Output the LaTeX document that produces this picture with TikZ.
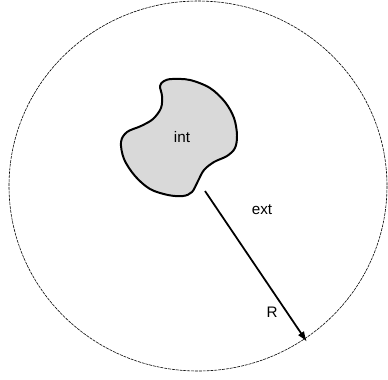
\documentclass[tikz,border=0pt]{standalone}
\usepackage{fontspec}
\setmainfont{Liberation Sans}
\usetikzlibrary{arrows.meta}
\definecolor{blobgray}{HTML}{D9D9D9}

\begin{document}
\begin{tikzpicture}[
  x=0.03cm,y=-0.03cm,
  lbl/.style={font=\fontsize{13}{15}\selectfont,inner sep=1pt},
  blob/.style={line width=1.7pt,fill=blobgray,draw=black},
  bound/.style={line width=0.5pt,dash pattern=on 2.5pt off 0.8pt},
  arr/.style={-{Latex[length=3.2mm,width=2.2mm]},line width=1.5pt}
]
\useasboundingbox (0,0) rectangle (388,379);
\coordinate (o) at (198,186);
\draw[bound] (o) ellipse [x radius=189,y radius=185];
\draw[blob] plot[smooth cycle,tension=0.55] coordinates {
  (172,79) (190,80) (210,88) (225,102) (234,118) (237,135) (235,148)
  (227,156) (214,162) (204,170) (198,181) (192,192) (183,196) (168,195)
  (150,189) (135,176) (124,159) (121,142) (127,132) (141,126) (153,119)
  (161,108) (162,96) (160,86) (164,81)};
\node[lbl] (int) at (182,137) {int};
\coordinate (rtail) at (205,191);
\coordinate (rtip) at (307,342);
\draw[arr] (rtail) -- (rtip);
\node[lbl] (ext) at (262,210) {ext};
\node[lbl] (r) at (272,312) {R};
\end{tikzpicture}
\end{document}
